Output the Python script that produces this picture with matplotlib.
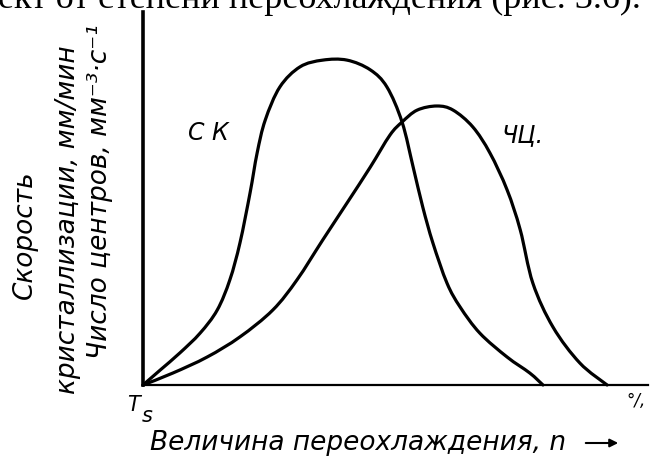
import matplotlib
matplotlib.use("Agg")
import matplotlib.pyplot as plt
from matplotlib.path import Path
from matplotlib.patches import PathPatch

# кривые (ось x: 0..100, ось y: 0..100, отн. ед.)
sk_x = [0, 3.4, 7.3, 11.3, 14.7, 17.2, 19.2, 21.2, 22.6, 24.2, 27.1, 31.1, 35.6,
        40.4, 45.0, 48.3, 51.3, 53.5, 55.4, 57.4, 60.2, 62.8, 66.7, 72.1, 76.6, 79.2]
sk_y = [0, 4.0, 8.6, 13.9, 20.1, 28.2, 38.1, 51.5, 62.2, 71.0, 79.9, 85.3, 87.1,
        87.1, 84.5, 79.9, 70.5, 58.4, 47.7, 38.1, 27.3, 20.9, 13.9, 7.5, 3.2, 0]

chc_x = [0, 5.9, 12.7, 19.2, 25.7, 30.5, 35.6, 40.4, 45.0, 48.9, 51.3, 54.3, 58.2,
         61.4, 65.3, 68.7, 72.1, 74.7, 77.2, 81.2, 86.5, 91.9]
chc_y = [0, 3.2, 7.5, 12.9, 20.1, 28.2, 38.9, 48.8, 58.4, 67.0, 70.5, 73.7, 74.8,
         73.7, 69.2, 62.2, 52.3, 41.6, 27.3, 15.5, 5.9, 0]

curve_labels = ["С К", "ЧЦ."]
label_pos = [(12.9, 67.6), (75.2, 67.0)]

ylabel_lines = ["Скорость", "кристаллизации, мм/мин", "Число центров, мм⁻³·с⁻¹"]
xlabel = "Величина переохлаждения, n"
top_text = "ект от степени переохлаждения (рис. 3.6)."

W, H = 655, 463


def fx(px):
    return px / W


def fy(py):
    return 1 - py / H


def smooth_path(xs, ys):
    """Плавная кривая через точки (Catmull-Rom -> кубические Безье)."""
    pts = list(zip(xs, ys))
    verts = [pts[0]]
    codes = [Path.MOVETO]
    n = len(pts)
    for i in range(n - 1):
        p0 = pts[i - 1] if i > 0 else pts[i]
        p1 = pts[i]
        p2 = pts[i + 1]
        p3 = pts[i + 2] if i + 2 < n else pts[i + 1]
        c1 = (p1[0] + (p2[0] - p0[0]) / 6, p1[1] + (p2[1] - p0[1]) / 6)
        c2 = (p2[0] - (p3[0] - p1[0]) / 6, p2[1] - (p3[1] - p1[1]) / 6)
        verts += [c1, c2, p2]
        codes += [Path.CURVE4] * 3
    return Path(verts, codes)


fig = plt.figure(figsize=(W / 100, H / 100), dpi=100)
ax = fig.add_axes([fx(143), fy(385), 505 / W, 373 / H])

for xs, ys in [(sk_x, sk_y), (chc_x, chc_y)]:
    ax.add_patch(PathPatch(smooth_path(xs, ys), fill=False, edgecolor="black",
                           lw=2.3, clip_on=False, capstyle="round",
                           joinstyle="round"))

ax.set_xlim(0, 100)
ax.set_ylim(0, 100)
ax.set_xticks([])
ax.set_yticks([])
ax.spines["top"].set_visible(False)
ax.spines["right"].set_visible(False)
ax.spines["left"].set_linewidth(2.6)
ax.spines["bottom"].set_linewidth(1.6)

hand = dict(family="DejaVu Sans", style="italic", color="black")

for txt, (x, y) in zip(curve_labels, label_pos):
    ax.text(x, y, txt, ha="center", va="center", fontsize=17, **hand)

# подписи оси y (повёрнутые)
ylab_pos = [(25, 235), (68, 220), (100, 192)]
for txt, (px, py) in zip(ylabel_lines, ylab_pos):
    fig.text(fx(px), fy(py), txt, rotation=90, ha="center", va="center",
             fontsize=19, **hand)

fig.text(fx(133), fy(405), "T", ha="center", va="center", fontsize=15, **hand)
fig.text(fx(147), fy(416), "s", ha="center", va="center", fontsize=15, **hand)
fig.text(fx(636), fy(401), "°/,", ha="center", va="center", fontsize=12, **hand)

fig.text(fx(150), fy(443), xlabel, ha="left", va="center", fontsize=19, **hand)
ax.annotate("", xy=(fx(621), fy(443)), xytext=(fx(583), fy(443)),
            xycoords="figure fraction", textcoords="figure fraction",
            arrowprops=dict(arrowstyle="-|>", color="black", lw=1.5,
                            mutation_scale=12))

# обрезанная сверху строка текста из книги
fig.text(-0.003, fy(8), top_text, ha="left", va="baseline",
         family="Liberation Serif", fontsize=26, color="black")

fig.savefig("out.png", dpi=100)
